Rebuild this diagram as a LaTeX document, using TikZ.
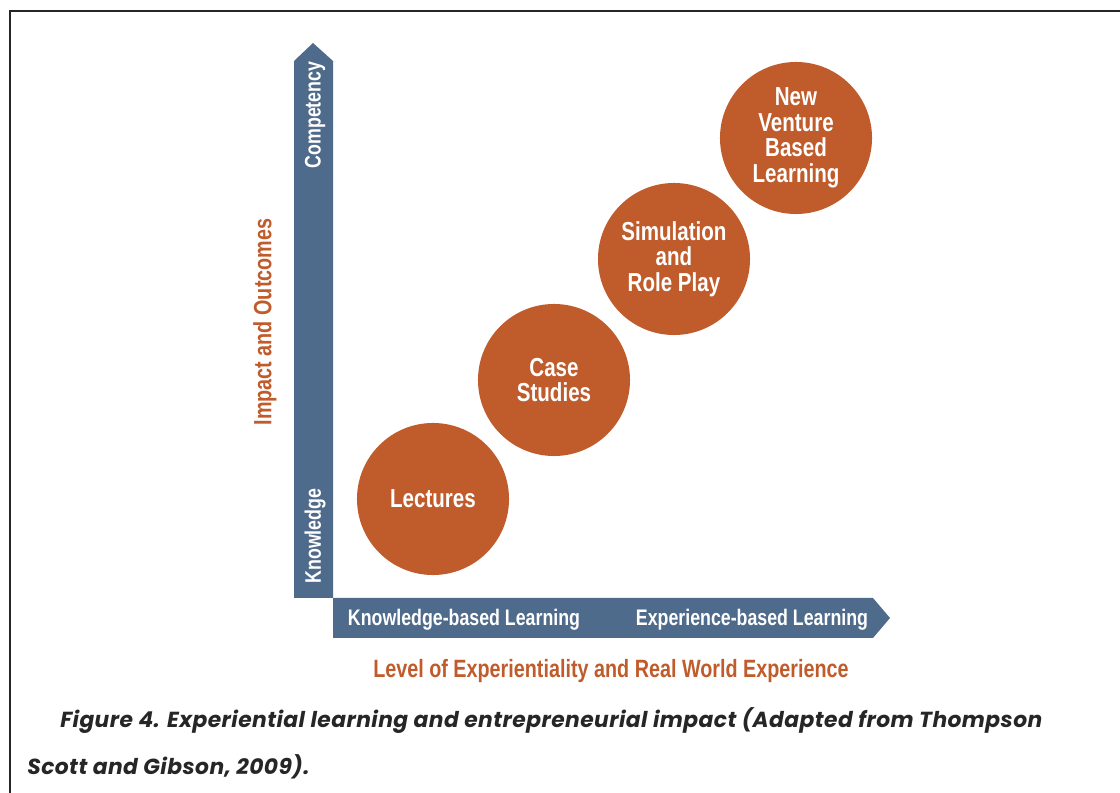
\documentclass[tikz,border=0pt]{standalone}
\usepackage{fontspec}
\usepackage{tikz}
\usetikzlibrary{positioning}
\newfontfamily\cond[FakeStretch=0.79]{Liberation Sans}
\newfontfamily\capfont[LetterSpace=2]{Poppins}
\definecolor{rust}{HTML}{C05B2B}
\definecolor{slate}{HTML}{4F6B8B}

\begin{document}
\begin{tikzpicture}[x=0.025cm,y=-0.025cm,
    stage/.style={circle,fill=rust,minimum size=3.8cm,inner sep=0pt,align=center,
      text=white,font=\cond\bfseries\fontsize{18.5}{18.2}\selectfont},
    barlabel/.style={text=white,font=\cond\bfseries\fontsize{16}{16}\selectfont,inner sep=0pt},
    axislabel/.style={text=rust,font=\cond\bfseries\fontsize{17.8}{18}\selectfont,inner sep=0pt},
    caption/.style={anchor=base west,inner sep=0pt,text=black!85,
      font=\capfont\bfseries\itshape\fontsize{15.5}{16}\selectfont}]
    \useasboundingbox (0,0) rectangle (1120,793);
    \draw[line width=1pt,black!85] (10,793) -- (10,11) -- (1120,11);

    % axes
    \fill[slate] (294,598) -- (294,61) -- (313,43) -- (333,61) -- (333,598) -- cycle;
    \fill[slate] (333,598) -- (873,598) -- (890,618) -- (873,638) -- (333,638) -- cycle;

    \node[barlabel,rotate=90] (comp) at (315,115) {Competency};
    \node[barlabel,rotate=90] (know) at (315,536) {Knowledge};
    \node[barlabel] (kbl) at (464,620) {Knowledge-based Learning};
    \node[barlabel] (ebl) at (752,620) {Experience-based Learning};

    \node[axislabel,rotate=90] (impact) at (265,322) {Impact and Outcomes};
    \node[axislabel] (level) at (611,671) {Level of Experientiality and Real World Experience};

    % stages
    \node[stage] (lect) at (433,499) {Lectures};
    \node[stage] (case) at (554,380) {Case\\Studies};
    \node[stage] (sim) at (674,259) {Simulation\\and\\Role Play};
    \node[stage] (venture) at (796,138) {New\\Venture\\Based\\Learning};

    % caption
    \node[caption] (cap1) at (60,727) {Figure 4. Experiential learning and entrepreneurial impact (Adapted from Thompson};
    \node[caption] (cap2) at (27,774) {Scott and Gibson, 2009).};
\end{tikzpicture}
\end{document}
